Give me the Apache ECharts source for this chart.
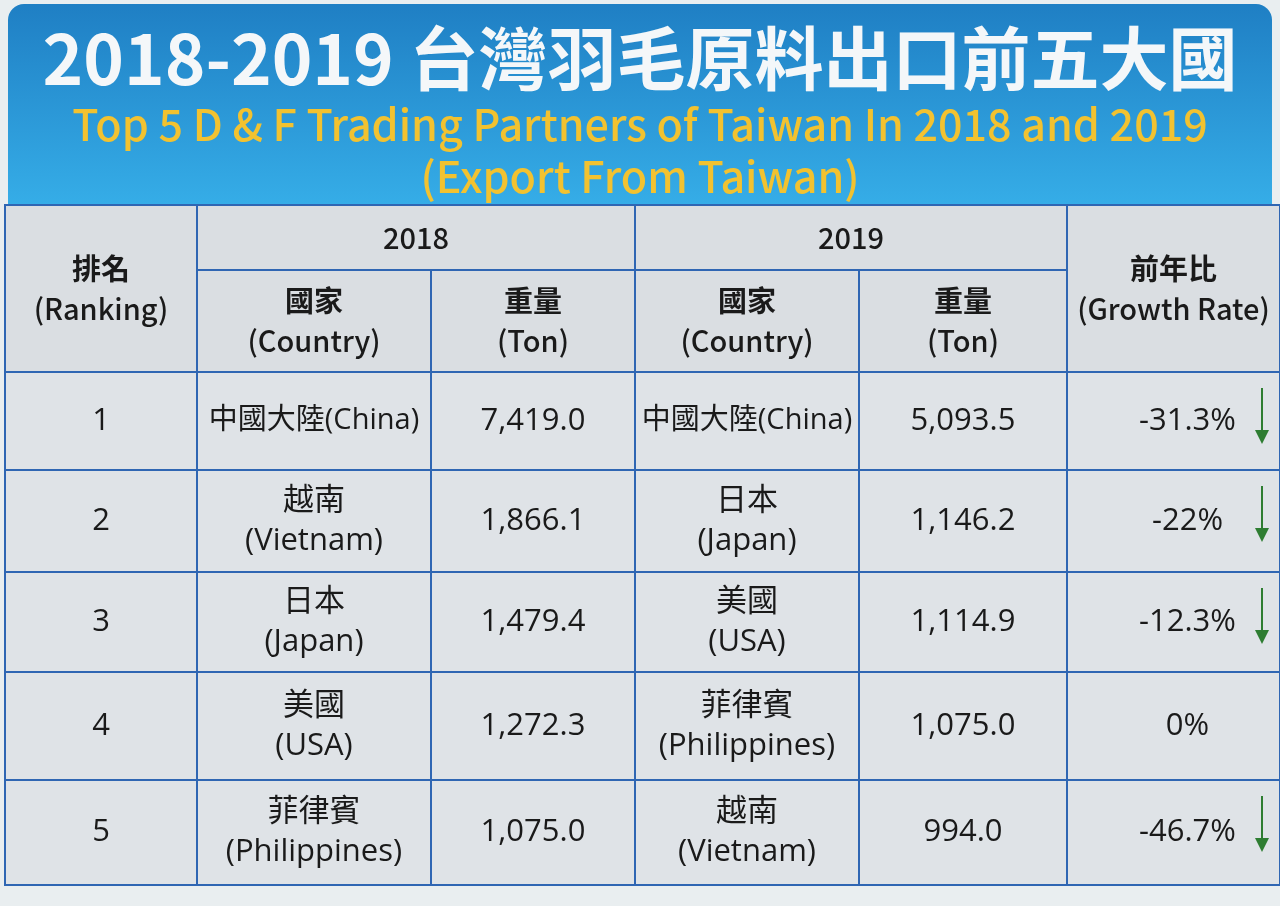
<!DOCTYPE html>
<html>
<head>
<meta charset="utf-8">
<script src="https://cdn.jsdelivr.net/npm/echarts@6/dist/echarts.min.js"></script>
<style>
html,body{margin:0;padding:0;background:#e9eef0;}
#c{width:1280px;height:906px;}
</style>
</head>
<body>
<div id="c"></div>
<script>
// ---- Data ----
const titleZh = '2018-2019 台灣羽毛原料出口前五大國';
const titleEn1 = 'Top 5 D & F Trading Partners of Taiwan In 2018 and 2019';
const titleEn2 = '(Export From Taiwan)';
const years = ['2018', '2019'];
const headRank = ['排名', '(Ranking)'];
const headCountry = ['國家', '(Country)'];
const headTon = ['重量', '(Ton)'];
const headGrowth = ['前年比', '(Growth Rate)'];
const ranks = ['1', '2', '3', '4', '5'];
const countries2018 = ['中國大陸(China)', '越南\n(Vietnam)', '日本\n(Japan)', '美國\n(USA)', '菲律賓\n(Philippines)'];
const tons2018 = [7419.0, 1866.1, 1479.4, 1272.3, 1075.0];
const countries2019 = ['中國大陸(China)', '日本\n(Japan)', '美國\n(USA)', '菲律賓\n(Philippines)', '越南\n(Vietnam)'];
const tons2019 = [5093.5, 1146.2, 1114.9, 1075.0, 994.0];
const growth = [-31.3, -22, -12.3, 0, -46.7];

// ---- Layout (table grid in axis units) ----
const colEdges = [0, 192, 426, 630, 854, 1062, 1275];
const rowEdges = [0, 65, 167, 265, 367, 467, 575, 680];

const fmt = v => v.toLocaleString('en-US', {minimumFractionDigits: 1, maximumFractionDigits: 1});
const FONT = "'Open Sans','Noto Sans CJK TC',sans-serif";

// cells: [c0, c1, r0, r1, text, kind]
const cells = [];
cells.push([0, 1, 0, 2, headRank, 'head']);
cells.push([1, 3, 0, 1, [years[0]], 'year']);
cells.push([3, 5, 0, 1, [years[1]], 'year']);
cells.push([5, 6, 0, 2, headGrowth, 'head']);
cells.push([1, 2, 1, 2, headCountry, 'head']);
cells.push([2, 3, 1, 2, headTon, 'head']);
cells.push([3, 4, 1, 2, headCountry, 'head']);
cells.push([4, 5, 1, 2, headTon, 'head']);
for (let i = 0; i < ranks.length; i++) {
  const r = i + 2;
  cells.push([0, 1, r, r + 1, ranks[i], 'body']);
  cells.push([1, 2, r, r + 1, countries2018[i], 'body']);
  cells.push([2, 3, r, r + 1, fmt(tons2018[i]), 'body']);
  cells.push([3, 4, r, r + 1, countries2019[i], 'body']);
  cells.push([4, 5, r, r + 1, fmt(tons2019[i]), 'body']);
  cells.push([5, 6, r, r + 1, growth[i] + '%', 'growth', growth[i]]);
}
const cellData = cells.map((c, i) => [colEdges[c[0]], colEdges[c[1]], rowEdges[c[2]], rowEdges[c[3]], i]);

function renderCell(params, api) {
  const cell = cells[params.dataIndex];
  const p0 = api.coord([api.value(0), api.value(2)]);
  const p1 = api.coord([api.value(1), api.value(3)]);
  const x = p0[0], y = p0[1], w = p1[0] - p0[0], h = p1[1] - p0[1];
  const kind = cell[5];
  const children = [{
    type: 'rect',
    shape: {x: x, y: y, width: w, height: h},
    style: {fill: kind === 'body' || kind === 'growth' ? '#dfe3e7' : '#dadee2', stroke: '#2f66b3', lineWidth: 2}
  }];
  let text, rich = {};
  if (kind === 'head') {
    text = '{z|' + cell[4][0] + '}\n{e|' + cell[4][1] + '}';
    rich = {
      z: {fontFamily: "'Noto Sans CJK TC',sans-serif", fontWeight: 'bold', fontSize: 29, lineHeight: 40, fill: '#1a1a1a'},
      e: {fontFamily: "'Noto Sans CJK TC',sans-serif", fontWeight: 500, fontSize: 29, lineHeight: 40, fill: '#1a1a1a'}
    };
  } else if (kind === 'year') {
    text = cell[4][0];
  } else {
    text = cell[4];
  }
  let cx = x + w / 2;
  if (kind === 'growth') cx = x + w / 2 + 14;
  children.push({
    type: 'text',
    style: {
      x: cx, y: y + h / 2, text: text, align: 'center', verticalAlign: 'middle',
      fontFamily: kind === 'year' ? "'Noto Sans CJK TC',sans-serif" : FONT,
      fontWeight: kind === 'year' ? 500 : 'normal',
      fontSize: kind === 'year' ? 29 : (String(text).indexOf('中國大陸') === 0 ? 29 : 31),
      lineHeight: 40, fill: '#1a1a1a', rich: rich
    }
  });
  if (kind === 'growth' && cell[6] < 0) {
    const ax = x + w - 18, ay0 = y + 16, ay1 = y + 72;
    children.push({type: 'line', shape: {x1: ax, y1: ay0, x2: ax, y2: ay1 - 12}, style: {stroke: '#2e7d32', lineWidth: 2}});
    children.push({type: 'polygon', shape: {points: [[ax - 7, ay1 - 14], [ax + 7, ay1 - 14], [ax, ay1]]}, style: {fill: '#2e7d32'}});
  }
  return {type: 'group', children: children};
}

const chart = echarts.init(document.getElementById('c'), null, {renderer: 'canvas'});
chart.setOption({
  backgroundColor: '#e9eef0',
  animation: false,
  grid: {left: 5, right: 0, top: 205, bottom: 21},
  xAxis: {type: 'value', min: 0, max: colEdges[colEdges.length - 1], show: false},
  yAxis: {type: 'value', min: 0, max: rowEdges[rowEdges.length - 1], inverse: true, show: false},
  graphic: [
    {
      type: 'rect', left: 8, top: 4, z: -1,
      shape: {width: 1264, height: 205, r: [16, 16, 0, 0]},
      style: {fill: new echarts.graphic.LinearGradient(0, 0, 0, 1, [
        {offset: 0, color: '#1f7fc4'}, {offset: 1, color: '#36aee8'}])}
    },
    {type: 'text', left: 'center', top: 24, style: {text: titleZh, fill: '#f4f7f9', font: "bold 69px 'Noto Sans CJK TC', sans-serif"}},
    {type: 'text', left: 'center', top: 103, style: {text: titleEn1, fill: '#f2c230', font: "500 43px 'Noto Sans CJK TC', sans-serif"}},
    {type: 'text', left: 'center', top: 155, style: {text: titleEn2, fill: '#f2c230', font: "500 43px 'Noto Sans CJK TC', sans-serif"}}
  ],
  series: [{
    type: 'custom',
    coordinateSystem: 'cartesian2d',
    renderItem: renderCell,
    encode: {x: [0, 1], y: [2, 3]},
    data: cellData,
    silent: true
  }]
});
</script>
</body>
</html>
